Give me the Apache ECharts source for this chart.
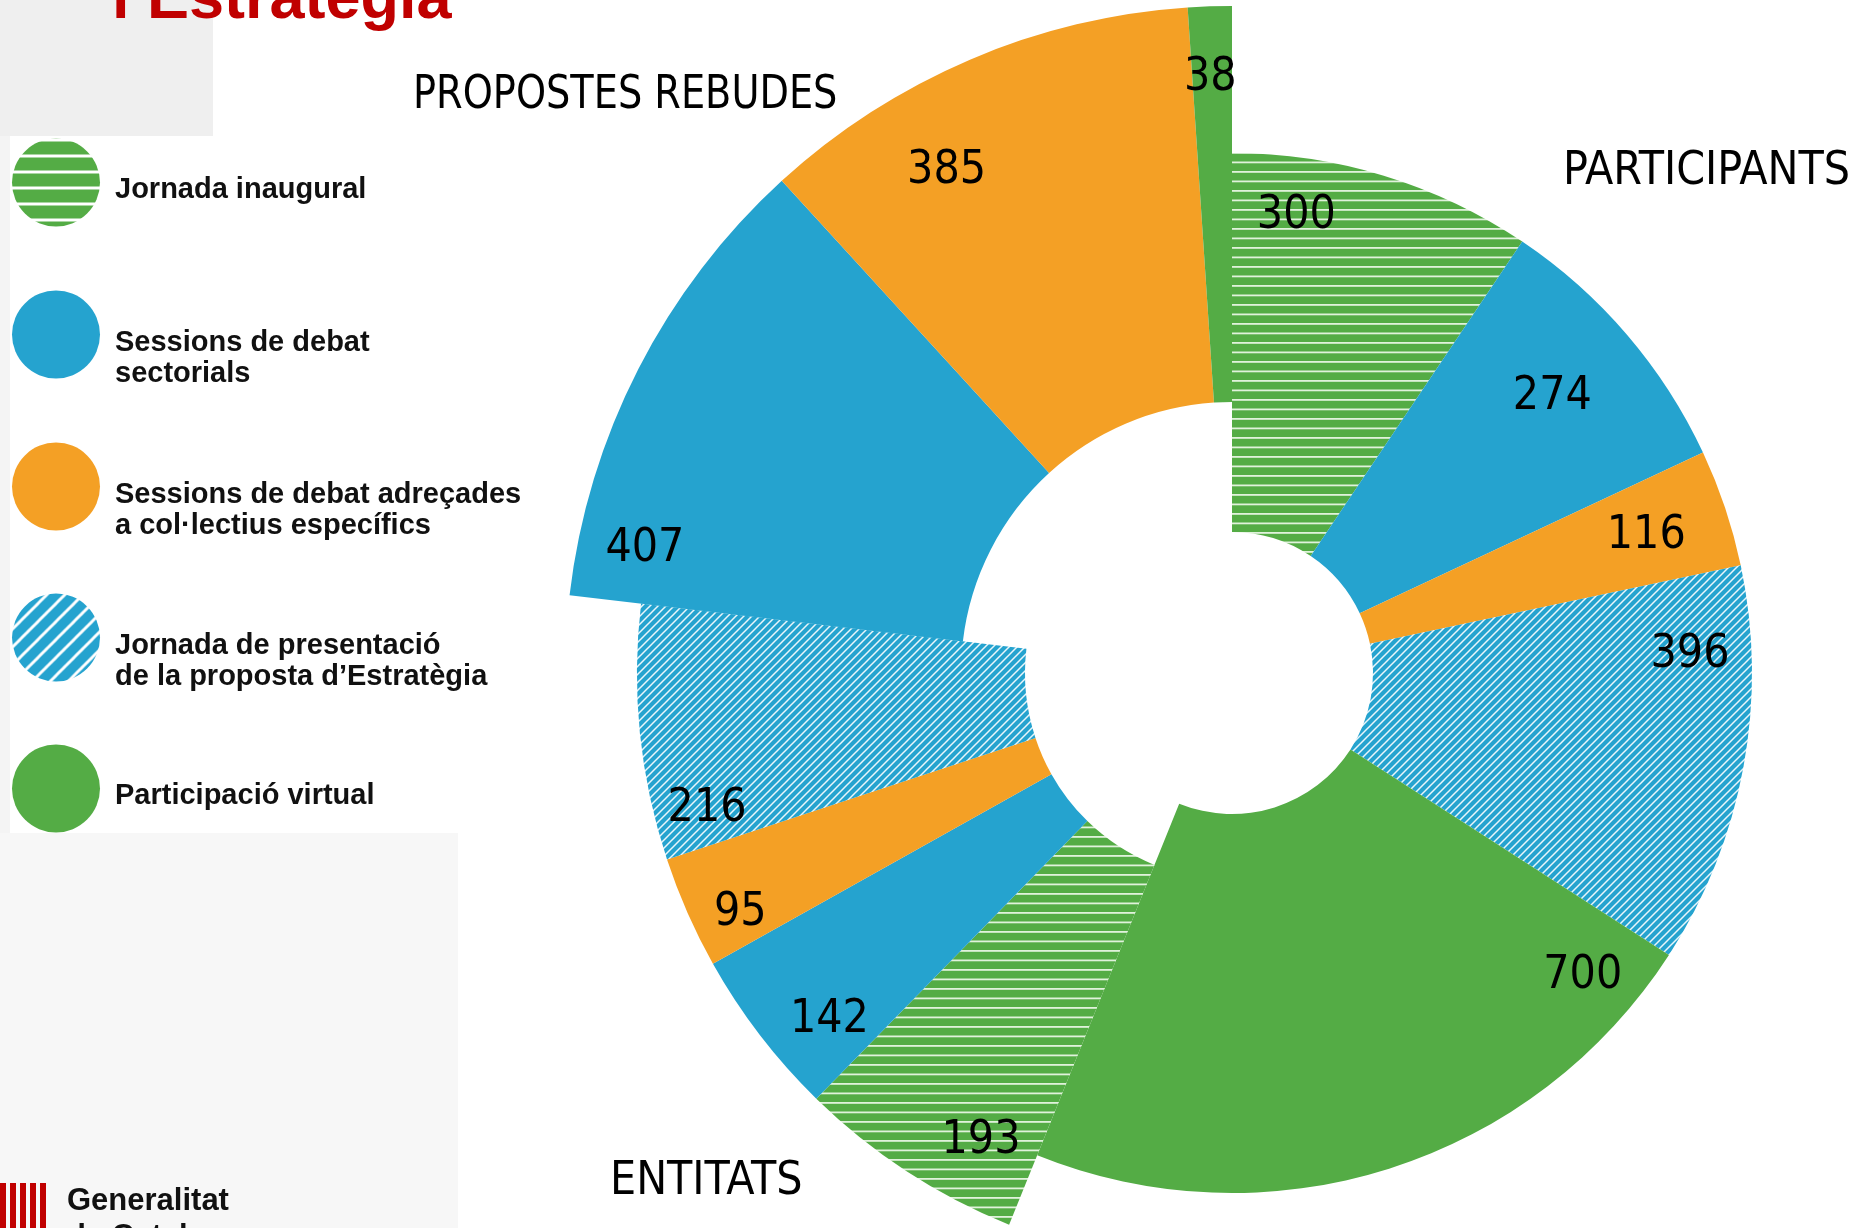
<!DOCTYPE html>
<html><head><meta charset="utf-8">
<script src="https://cdn.jsdelivr.net/npm/echarts@6/dist/echarts.min.js"></script>
<style>html,body{margin:0;padding:0;background:#fff}#c{width:1854px;height:1228px}</style>
</head><body><div id="c"></div>
<script>
// ---------------- data ----------------
const categories = [
  'Jornada inaugural',
  'Sessions de debat sectorials',
  'Sessions de debat adreçades a col·lectius específics',
  'Jornada de presentació de la proposta d’Estratègia',
  'Participació virtual'
];
const legendLabels = [
  'Jornada inaugural',
  'Sessions de debat\nsectorials',
  'Sessions de debat adreçades\na col·lectius específics',
  'Jornada de presentació\nde la proposta d’Estratègia',
  'Participació virtual'
];
const groupNames = ['PARTICIPANTS', 'ENTITATS', 'PROPOSTES REBUDES'];
const participantsCats = [0, 1, 2, 3, 4];
const participantsValues = [300, 274, 116, 396, 700];
const entitatsCats = [0, 1, 2, 3];
const entitatsValues = [193, 142, 95, 216];
const propostesCats = [1, 2, 4];
const propostesValues = [407, 385, 38];

// ---------------- layout / style ----------------
const CENTER = [1232, 673];
const groupRadius = [[141, 520], [207, 595], [271, 667]];
const groupAngles = [[0, 202], [202, 276.7], [276.7, 360]]; // degrees clockwise from 12 o'clock
const labelShift = [
  [[-33, -138], [67, -59], [98, -31], [130, -78], [250, -15]],
  [[-30, 130], [-82, 101], [-122, 77], [-123, 95]],
  [[-167, 91], [-100, -68], [-6, -123]]
];
const groupTitlePos = [[1563, 172], [610, 1182], [413, 96]];
const groupTitleScale = [1, 1, 0.925];
const legendTops = [138.5, 290.5, 442.5, 593.5, 744.5];
const NUMFONT = "'Liberation Sans Narrow','Arial Narrow','DejaVu Sans Condensed',sans-serif";
const BOLDFONT = "'Liberation Sans',Arial,'Helvetica Neue',sans-serif";
const GREEN = '#54ac45', BLUE = '#25a3cf', ORANGE = '#f4a025';

function makeTile(w, h, bg, draw) {
  const c = document.createElement('canvas');
  c.width = w; c.height = h;
  const g = c.getContext('2d');
  g.fillStyle = bg; g.fillRect(0, 0, w, h);
  draw(g, w, h);
  return c;
}
function hTile(period, lw, col) {
  return makeTile(period * 2, period * 2, GREEN, (g, w) => {
    g.fillStyle = col; g.fillRect(0, 0, w, lw); g.fillRect(0, period, w, lw);
  });
}
function dTile(size, lw, col) {
  return makeTile(size, size, BLUE, (g, w, h) => {
    g.strokeStyle = col; g.lineWidth = lw; g.beginPath();
    g.moveTo(-1, h + 1); g.lineTo(w + 1, -1);
    g.moveTo(-w / 2, h / 2); g.lineTo(w / 2, -h / 2);
    g.moveTo(w / 2, h * 1.5); g.lineTo(w * 1.5, h / 2);
    g.stroke();
  });
}
const catFill = [
  { image: hTile(9.5, 1.8, 'rgba(240,250,235,0.9)'), repeat: 'repeat' },
  BLUE, ORANGE,
  { image: dTile(8, 1.5, 'rgba(255,255,255,0.9)'), repeat: 'repeat' },
  GREEN
];
const legendFill = [
  { image: hTile(16, 3, '#ffffff'), repeat: 'repeat' },
  BLUE, ORANGE,
  { image: dTile(18, 3, '#ffffff'), repeat: 'repeat' },
  GREEN
];

const groupValues = [participantsValues, entitatsValues, propostesValues];
const groupCats = [participantsCats, entitatsCats, propostesCats];

const series = groupValues.map((vals, gi) => ({
  type: 'pie',
  name: groupNames[gi],
  center: CENTER,
  radius: groupRadius[gi],
  startAngle: 90 - groupAngles[gi][0],
  endAngle: 90 - groupAngles[gi][1],
  clockwise: true,
  avoidLabelOverlap: false,
  silent: true,
  animation: false,
  label: { show: true, position: 'inside', formatter: '{c}', color: '#000', fontSize: 46, fontFamily: NUMFONT },
  labelLine: { show: false },
  labelLayout: p => ({ dx: labelShift[gi][p.dataIndex][0], dy: labelShift[gi][p.dataIndex][1] }),
  itemStyle: { borderWidth: 0 },
  emphasis: { disabled: true },
  data: vals.map((v, i) => ({ value: v, name: categories[groupCats[gi][i]], itemStyle: { color: catFill[groupCats[gi][i]] } }))
}));

const graphics = [
  { type: 'rect', shape: { x: 0, y: 0, width: 213, height: 136 }, style: { fill: '#efefef' }, z: -10 },
  { type: 'rect', shape: { x: 0, y: 136, width: 10, height: 697 }, style: { fill: '#f4f4f4' }, z: -10 },
  { type: 'rect', shape: { x: 0, y: 833, width: 458, height: 395 }, style: { fill: '#f7f7f7' }, z: -10 },
  { type: 'text', left: 112, top: -31, style: { text: 'l’Estratègia', fill: '#c00000', font: 'bold 63px ' + BOLDFONT } },
  { type: 'text', left: 67, top: 1186, style: { text: 'Generalitat', fill: '#111', font: 'bold 31px ' + BOLDFONT } },
  { type: 'text', left: 67, top: 1222, style: { text: 'de Catalunya', fill: '#111', font: 'bold 31px ' + BOLDFONT } }
];
[0, 10, 20, 30, 40].forEach(x => graphics.push({ type: 'rect', shape: { x: x, y: 1183, width: 6, height: 45 }, style: { fill: '#c00000' } }));
groupNames.forEach((n, gi) => graphics.push({
  type: 'text', x: groupTitlePos[gi][0], y: groupTitlePos[gi][1],
  scaleX: groupTitleScale[gi], originX: 0,
  style: { text: n, fill: '#000', font: '46px ' + NUMFONT, textVerticalAlign: 'middle' }
}));

function legendText(name) {
  const lines = legendLabels[categories.indexOf(name)].split('\n');
  const body = lines.map(l => '{t|' + l + '}').join('\n');
  return lines.length > 1 ? '{hd| }\n' + body : '{hs| }\n' + body + '\n{ft| }';
}

const legends = categories.map((n, i) => ({
  orient: 'vertical', left: 12, top: legendTops[i], padding: 0,
  itemWidth: 88, itemHeight: 88,
  icon: 'circle', selectedMode: false,
  formatter: legendText,
  textStyle: {
    fontSize: 29, fontWeight: 'bold', fontFamily: BOLDFONT, color: '#111', padding: [0, 0, 0, 10],
    rich: {
      t: { fontSize: 29, fontWeight: 'bold', fontFamily: BOLDFONT, color: '#111', lineHeight: 31 },
      hd: { fontSize: 10, lineHeight: 48 },
      hs: { fontSize: 10, lineHeight: 47 },
      ft: { fontSize: 10, lineHeight: 32 }
    }
  },
  data: [{ name: n, itemStyle: { color: legendFill[i] } }]
}));

const chart = echarts.init(document.getElementById('c'), null, { renderer: 'canvas' });
chart.setOption({
  backgroundColor: '#ffffff',
  animation: false,
  legend: legends,
  graphic: graphics,
  series: series
});
</script></body></html>
